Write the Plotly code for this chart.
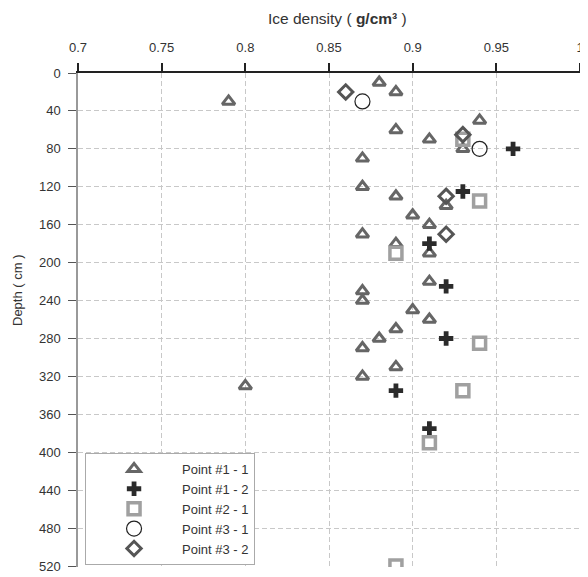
import plotly.graph_objects as go

# Point #1 - 1 (triangles)
p11_density = [0.88, 0.89, 0.79, 0.94, 0.89, 0.91, 0.93, 0.87, 0.87, 0.89, 0.92, 0.90, 0.91, 0.87,
               0.89, 0.91, 0.91, 0.87, 0.87, 0.90, 0.91, 0.89, 0.88, 0.87, 0.89, 0.87, 0.80]
p11_depth = [10, 20, 30, 50, 60, 70, 80, 90, 120, 130, 140, 150, 160, 170,
             180, 190, 220, 230, 240, 250, 260, 270, 280, 290, 310, 320, 330]
# Point #1 - 2 (plus)
p12_density = [0.96, 0.93, 0.91, 0.92, 0.92, 0.89, 0.91]
p12_depth = [80, 125, 180, 225, 280, 335, 375]
# Point #2 - 1 (squares)
p21_density = [0.93, 0.94, 0.89, 0.94, 0.93, 0.91, 0.89]
p21_depth = [70, 135, 190, 285, 335, 390, 520]
# Point #3 - 1 (circles)
p31_density = [0.87, 0.94]
p31_depth = [30, 80]
# Point #3 - 2 (diamonds)
p32_density = [0.86, 0.93, 0.92, 0.92]
p32_depth = [20, 65, 130, 170]

x_ticks = [0.7, 0.75, 0.8, 0.85, 0.9, 0.95, 1.0]
x_ticklabels = ["0.7", "0.75", "0.8", "0.85", "0.9", "0.95", "1"]
y_ticks = list(range(0, 521, 40))

FONT = "Liberation Sans, Arial, sans-serif"
GRID_DASH = "5px,3px"

fig = go.Figure()
fig.add_trace(go.Scatter(x=p11_density, y=p11_depth, mode="markers", name="Point #1 - 1",
                         marker=dict(symbol="triangle-up-open", size=11, color="#666666",
                                     line=dict(width=3, color="#666666"))))
fig.add_trace(go.Scatter(x=p12_density, y=p12_depth, mode="markers", name="Point #1 - 2",
                         marker=dict(symbol="cross", size=12, color="#2b2b2b",
                                     line=dict(width=0))))
fig.add_trace(go.Scatter(x=p21_density, y=p21_depth, mode="markers", name="Point #2 - 1",
                         marker=dict(symbol="square-open", size=12, color="#a0a0a0",
                                     line=dict(width=3.5, color="#a0a0a0"))))
fig.add_trace(go.Scatter(x=p31_density, y=p31_depth, mode="markers", name="Point #3 - 1",
                         marker=dict(symbol="circle-open", size=15, color="#222222",
                                     line=dict(width=1.2, color="#222222"))))
fig.add_trace(go.Scatter(x=p32_density, y=p32_depth, mode="markers", name="Point #3 - 2",
                         marker=dict(symbol="diamond-open", size=11, color="#555555",
                                     line=dict(width=3, color="#555555"))))

# The page body has an 8px default margin, so the figure is 8px smaller than the window.
fig.update_layout(
    width=580, height=569,
    margin=dict(l=70, r=7, t=65, b=10, autoexpand=False),
    paper_bgcolor="white", plot_bgcolor="white",
    font=dict(family=FONT, size=13, color="#333333"),
    showlegend=True,
    legend=dict(x=0.014, y=0.231, xanchor="left", yanchor="top",
                bgcolor="white", bordercolor="#aaaaaa", borderwidth=1,
                font=dict(family=FONT, size=13, color="#333333"),
                itemwidth=86, tracegroupgap=0),
    xaxis=dict(side="top", range=[0.7, 1.0006], tickvals=x_ticks, ticktext=x_ticklabels,
               automargin=False, ticklabeloverflow="allow", ticklabelstandoff=6,
               showline=True, linecolor="#222222", linewidth=1.5,
               ticks="outside", ticklen=8, tickcolor="#222222", tickwidth=1.5,
               showgrid=True, gridcolor="#c8c8c8", griddash=GRID_DASH, gridwidth=1,
               zeroline=False, tickfont=dict(size=13, color="#333333")),
    yaxis=dict(range=[521, 0], tickvals=y_ticks, automargin=False, ticklabelstandoff=5,
               showline=True, linecolor="#999999", linewidth=1.5,
               ticks="outside", ticklen=8, tickcolor="#555555", tickwidth=1.2,
               showgrid=True, gridcolor="#c8c8c8", griddash=GRID_DASH, gridwidth=1,
               zeroline=False, tickfont=dict(size=13, color="#333333")),
    annotations=[
        dict(text="Ice density ( <b>g/cm³</b> )", xref="paper", yref="paper",
             x=0.515, y=1.111, xanchor="center", yanchor="middle", showarrow=False,
             font=dict(family=FONT, size=15.5, color="#333333")),
        dict(text="Depth ( cm )", xref="paper", yref="paper", textangle=-90,
             x=-0.12, y=0.56, xanchor="center", yanchor="middle", showarrow=False,
             font=dict(family=FONT, size=13, color="#333333")),
    ],
)

fig.write_html("out.html")
